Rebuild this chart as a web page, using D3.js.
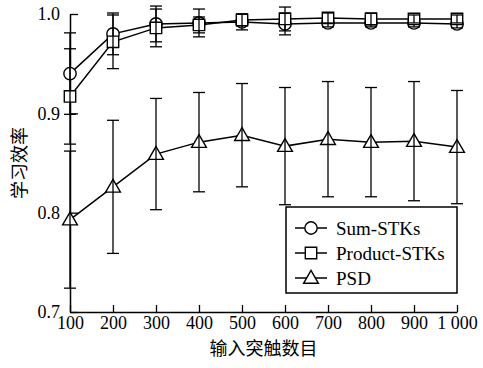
<!DOCTYPE html>
<html>
<head>
<meta charset="utf-8">
<script src="https://cdn.jsdelivr.net/npm/d3@7"></script>
<style>
  body { margin: 0; background: #fff; }
</style>
</head>
<body>
<div id="chart"></div>
<script>
// data
const synapses = [100, 200, 300, 400, 500, 600, 700, 800, 900, 1000];
const xTickLabels = ['100', '200', '300', '400', '500', '600', '700', '800', '900', '1 000'];
const yTicks = [0.7, 0.8, 0.9, 1.0];

const sumMean = [0.940, 0.980, 0.990, 0.991, 0.992, 0.990, 0.991, 0.991, 0.991, 0.990];
const sumErr = [0.041, 0.021, 0.018, 0.014, 0.008, 0.011, 0.004, 0.004, 0.004, 0.004];
const prodMean = [0.917, 0.972, 0.986, 0.989, 0.994, 0.995, 0.996, 0.995, 0.995, 0.995];
const prodErr = [0.048, 0.027, 0.019, 0.008, 0.006, 0.012, 0.005, 0.006, 0.004, 0.004];
const psdMean = [0.793, 0.826, 0.859, 0.871, 0.878, 0.867, 0.874, 0.871, 0.872, 0.866];
const psdErr = [0.069, 0.067, 0.056, 0.050, 0.052, 0.059, 0.058, 0.055, 0.060, 0.057];

const seriesNames = ['Sum-STKs', 'Product-STKs', 'PSD'];
const xTitle = '输入突触数目';
const yTitle = '学习效率';

const serifFont = "'Liberation Serif', 'Times New Roman', serif";
const cjkFont = "'Noto Sans CJK SC', sans-serif";

const width = 483, height = 368;
const margin = {top: 14, right: 26, bottom: 56, left: 70};

const svg = d3.select('#chart').append('svg')
  .attr('width', width)
  .attr('height', height);

const x = d3.scaleLinear().domain([100, 1000]).range([margin.left, width - margin.right]);
const y = d3.scaleLinear().domain([0.7, 1.0]).range([height - margin.bottom, margin.top]);

// axes (ticks pointing inward)
const xAxis = svg.append('g')
  .attr('transform', 'translate(0,' + y(0.7) + ')')
  .call(d3.axisBottom(x).tickValues(synapses).tickSizeInner(-7).tickSizeOuter(0)
    .tickPadding(4).tickFormat((d, i) => xTickLabels[i]));
const yAxis = svg.append('g')
  .attr('transform', 'translate(' + x(100) + ',0)')
  .call(d3.axisLeft(y).tickValues(yTicks).tickSizeInner(-8).tickSizeOuter(0)
    .tickPadding(10).tickFormat(d3.format('.1f')));
[xAxis, yAxis].forEach(g => {
  g.attr('font-family', null).attr('font-size', null);
  g.select('.domain').attr('stroke', '#000').attr('stroke-width', 1.5);
  g.selectAll('.tick line').attr('stroke', '#000').attr('stroke-width', 1.3);
  g.selectAll('.tick text')
    .attr('fill', '#000')
    .style('font-family', serifFont)
    .style('font-size', '18px');
});

// axis titles
svg.append('text')
  .attr('x', (x(100) + x(1000)) / 2)
  .attr('y', 355)
  .attr('text-anchor', 'middle')
  .style('font-family', cjkFont)
  .style('font-size', '18px')
  .text(xTitle);
svg.append('text')
  .attr('transform', 'translate(26,' + 163 + ') rotate(-90)')
  .attr('text-anchor', 'middle')
  .style('font-family', cjkFont)
  .style('font-size', '18px')
  .text(yTitle);

const series = [
  {name: seriesNames[0], mean: sumMean, err: sumErr, marker: 'circle'},
  {name: seriesNames[1], mean: prodMean, err: prodErr, marker: 'square'},
  {name: seriesNames[2], mean: psdMean, err: psdErr, marker: 'triangle'}
];

const symbols = {
  circle: d3.symbol().type(d3.symbolCircle).size(120),
  square: d3.symbol().type(d3.symbolSquare).size(130),
  triangle: d3.symbol().type(d3.symbolTriangle).size(95)
};

const line = d3.line().x(d => x(d.x)).y(d => y(d.y));

series.forEach(s => {
  const pts = synapses.map((v, i) => ({x: v, y: s.mean[i], e: s.err[i]}));
  const g = svg.append('g');

  g.append('path')
    .datum(pts)
    .attr('d', line)
    .attr('fill', 'none')
    .attr('stroke', '#000')
    .attr('stroke-width', 1.5);

  g.selectAll('.marker')
    .data(pts)
    .enter()
    .append('path')
    .attr('class', 'marker')
    .attr('transform', d => 'translate(' + x(d.x) + ',' + (y(d.y) + (s.marker === 'triangle' ? 1 : 0)) + ')')
    .attr('d', symbols[s.marker])
    .attr('fill', '#fff')
    .attr('stroke', '#000')
    .attr('stroke-width', 1.4);

  // error bars on top
  const eb = g.selectAll('.err')
    .data(pts)
    .enter()
    .append('g')
    .attr('stroke', '#000')
    .attr('stroke-width', 1.3);
  eb.append('line')
    .attr('x1', d => x(d.x)).attr('x2', d => x(d.x))
    .attr('y1', d => y(d.y + d.e)).attr('y2', d => y(d.y - d.e));
  eb.append('line')
    .attr('x1', d => x(d.x) - 6).attr('x2', d => x(d.x) + 6)
    .attr('y1', d => y(d.y + d.e)).attr('y2', d => y(d.y + d.e));
  eb.append('line')
    .attr('x1', d => x(d.x) - 6).attr('x2', d => x(d.x) + 6)
    .attr('y1', d => y(d.y - d.e)).attr('y2', d => y(d.y - d.e));
});

// legend
const legend = svg.append('g').attr('transform', 'translate(286,207)');
legend.append('rect')
  .attr('width', 171)
  .attr('height', 86)
  .attr('fill', '#fff')
  .attr('stroke', '#000')
  .attr('stroke-width', 1.5);
series.forEach((s, i) => {
  const row = legend.append('g').attr('transform', 'translate(0,' + (21 + i * 25) + ')');
  row.append('line')
    .attr('x1', 9).attr('x2', 41)
    .attr('stroke', '#000').attr('stroke-width', 1.5);
  row.append('path')
    .attr('transform', 'translate(25,' + (s.marker === 'triangle' ? 1 : 0) + ')')
    .attr('d', symbols[s.marker])
    .attr('fill', '#fff')
    .attr('stroke', '#000')
    .attr('stroke-width', 1.4);
  row.append('text')
    .attr('x', 50)
    .attr('dy', '0.35em')
    .style('font-family', serifFont)
    .style('font-size', '19px')
    .text(s.name);
});
</script>
</body>
</html>
